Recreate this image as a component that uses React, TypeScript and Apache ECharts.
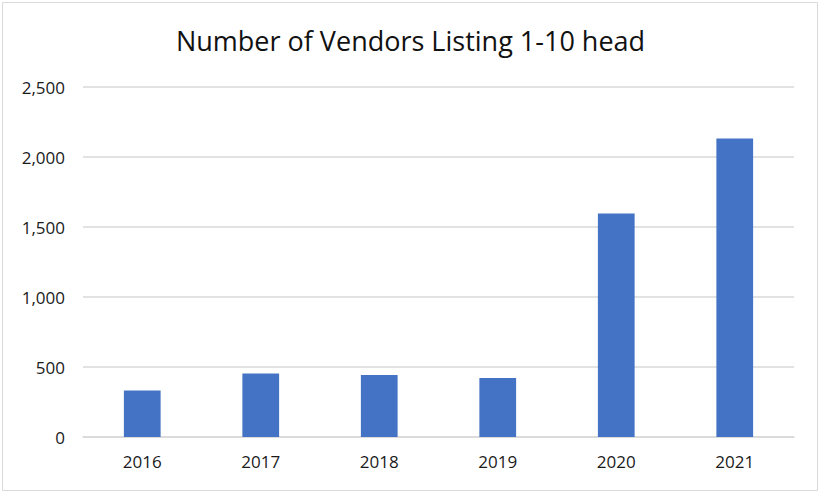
import React, { useEffect, useRef } from "react";
import * as echarts from "echarts";

const title = "Number of Vendors Listing 1-10 head";
const years = ["2016", "2017", "2018", "2019", "2020", "2021"];
const vendors = [332, 453, 442, 421, 1597, 2132];

export default function App() {
  const ref = useRef<HTMLDivElement>(null);
  useEffect(() => {
    if (!ref.current) return;
    const chart = echarts.init(ref.current, undefined, { renderer: "svg" });
    chart.setOption({
      animation: false,
      backgroundColor: "#ffffff",
      title: {
        text: title,
        left: "center",
        top: 22,
        textStyle: {
          fontFamily: "Open Sans",
          fontSize: 27,
          fontWeight: "normal",
          color: "#111111",
        },
      },
      graphic: [
        {
          type: "rect",
          shape: { x: 2.5, y: 2.5, width: 815, height: 488 },
          style: { fill: "none", stroke: "#d9d9d9", lineWidth: 1 },
          silent: true,
        },
      ],
      grid: { left: 83, right: 27, top: 87, bottom: 57, containLabel: false },
      xAxis: {
        type: "category",
        data: years,
        axisLine: { show: true, lineStyle: { color: "#d9d9d9", width: 1.5 } },
        axisTick: { show: false },
        axisLabel: {
          color: "#1a1a1a",
          fontFamily: "Open Sans",
          fontSize: 17,
          margin: 16,
        },
      },
      yAxis: {
        type: "value",
        min: 0,
        max: 2500,
        interval: 500,
        axisLine: { show: false },
        axisTick: { show: false },
        splitLine: { lineStyle: { color: "#d9d9d9", width: 1.5 } },
        axisLabel: {
          color: "#1a1a1a",
          fontFamily: "Open Sans",
          fontSize: 17,
          margin: 18,
          formatter: (v: number) => v.toLocaleString("en-US"),
        },
      },
      series: [
        {
          type: "bar",
          data: vendors,
          barWidth: "31%",
          itemStyle: { color: "#4472C4" },
        },
      ],
    });
    return () => chart.dispose();
  }, []);
  return (
    <div
      ref={ref}
      style={{ position: "fixed", left: 0, top: 0, width: 821, height: 494 }}
    />
  );
}
